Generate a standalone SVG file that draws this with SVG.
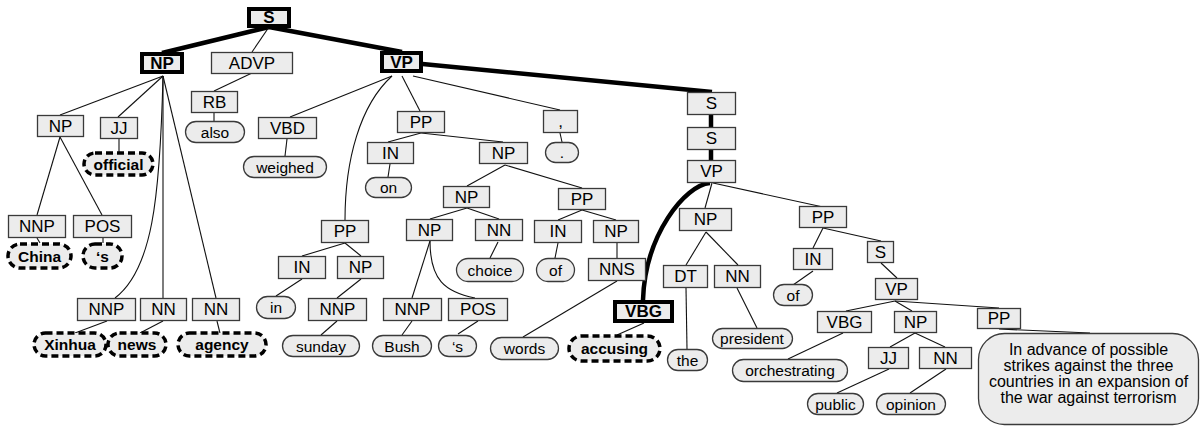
<svg xmlns="http://www.w3.org/2000/svg" width="1200" height="426" viewBox="0 0 1200 426">
<style>
  .box{fill:#ececec;stroke:#3a3a3a;stroke-width:1.3}
  .bbox{fill:#ececec;stroke:#000;stroke-width:4}
  .pill{fill:#ececec;stroke:#3a3a3a;stroke-width:1.3}
  .dpill{fill:#ececec;stroke:#000;stroke-width:3.5;stroke-dasharray:7 4}
  text{font-family:"Liberation Sans",Arial,sans-serif;fill:#000;text-anchor:middle;dominant-baseline:central}
  .lbl{font-size:17px}
  .blbl{font-size:17px;font-weight:bold}
  .leaf{font-size:15.5px}
  .bleaf{font-size:15.5px;font-weight:bold}
  .big{font-size:16px}
  .edge{fill:none;stroke:#111;stroke-width:1.1}
  .tedge{fill:none;stroke:#000;stroke-width:4.5}
</style>
<rect width="1200" height="426" fill="#fff"/>
<g id="connectors">
  <path class="tedge" d="M269,27 L162,53"/>
  <path class="edge" d="M269,27 L252,52"/>
  <path class="tedge" d="M269,27 L402,52"/>
  <path class="tedge" d="M402,62 L712,92"/>
  <path class="edge" d="M163,76 L60,115"/>
  <path class="edge" d="M163,76 L118,117"/>
  <path class="edge" d="M163,76 C160,200 152,270 115,298"/>
  <path class="edge" d="M163,76 L163,298"/>
  <path class="edge" d="M163,76 L216,298"/>
  <path class="edge" d="M60,137 L37,215"/>
  <path class="edge" d="M60,137 L102,215"/>
  <path class="edge" d="M119,139 L119,152"/>
  <path class="edge" d="M37,238 L40,243"/>
  <path class="edge" d="M103,238 L103,243"/>
  <path class="edge" d="M107,321 L75,333"/>
  <path class="edge" d="M163,321 L140,333"/>
  <path class="edge" d="M217,321 L220,333"/>
  <path class="edge" d="M252,73 L214,91"/>
  <path class="edge" d="M214,113 L214,121"/>
  <path class="edge" d="M392,76 L290,117"/>
  <path class="edge" d="M287,139 L285,156"/>
  <path class="edge" d="M392,76 C360,105 345,160 345,220"/>
  <path class="edge" d="M402,76 L420,111"/>
  <path class="edge" d="M413,76 L560,110"/>
  <path class="edge" d="M421,133 L388,142"/>
  <path class="edge" d="M421,133 L503,142"/>
  <path class="edge" d="M390,164 L388,177"/>
  <path class="edge" d="M560,133 L562,142"/>
  <path class="edge" d="M505,165 L467,186"/>
  <path class="edge" d="M505,165 L582,188"/>
  <path class="edge" d="M467,208 L430,219"/>
  <path class="edge" d="M467,208 L499,219"/>
  <path class="edge" d="M498,242 L490,258"/>
  <path class="edge" d="M582,210 L558,220"/>
  <path class="edge" d="M582,210 L616,220"/>
  <path class="edge" d="M558,243 L555,258"/>
  <path class="edge" d="M617,243 L617,258"/>
  <path class="edge" d="M430,241 L412,298"/>
  <path class="edge" d="M430,241 C430,280 445,292 475,298"/>
  <path class="edge" d="M412,321 L402,335"/>
  <path class="edge" d="M478,321 L458,334"/>
  <path class="edge" d="M617,281 L523,337"/>
  <path class="edge" d="M644,323 L617,335"/>
  <path class="edge" d="M345,243 L302,256"/>
  <path class="edge" d="M345,243 L361,256"/>
  <path class="edge" d="M302,279 L276,296"/>
  <path class="edge" d="M361,279 L337,298"/>
  <path class="edge" d="M337,321 L321,335"/>
  <path class="tedge" d="M710,183 C685,185 645,235 643,300"/>
  <path class="tedge" d="M711,115 L711,127"/>
  <path class="tedge" d="M711,150 L711,160"/>
  <path class="edge" d="M712,183 L705,208"/>
  <path class="edge" d="M713,183 L823,207"/>
  <path class="edge" d="M706,232 L686,265"/>
  <path class="edge" d="M706,232 L738,265"/>
  <path class="edge" d="M686,288 L687,349"/>
  <path class="edge" d="M737,288 L757,328"/>
  <path class="edge" d="M823,228 L813,248"/>
  <path class="edge" d="M823,228 L881,241"/>
  <path class="edge" d="M813,271 L793,285"/>
  <path class="edge" d="M881,263 L897,278"/>
  <path class="edge" d="M895,301 L846,311"/>
  <path class="edge" d="M895,301 L912,311"/>
  <path class="edge" d="M895,301 L999,308"/>
  <path class="edge" d="M843,333 L788,359"/>
  <path class="edge" d="M915,333 L890,347"/>
  <path class="edge" d="M915,333 L945,347"/>
  <path class="edge" d="M889,369 L837,393"/>
  <path class="edge" d="M946,369 L910,393"/>
  <path class="edge" d="M999,329 L1090,333"/>
</g>
<g id="n-s0"><rect class="bbox" x="249" y="9" width="40" height="17"/><text class="blbl" x="269" y="17.5">S</text></g>
<g id="n-np1"><rect class="bbox" x="142" y="54" width="40" height="18"/><text class="blbl" x="162" y="63">NP</text></g>
<g id="n-advp"><rect class="box" x="211.5" y="52.5" width="81" height="21"/><text class="lbl" x="252" y="63">ADVP</text></g>
<g id="n-vp1"><rect class="bbox" x="382" y="53" width="39" height="18"/><text class="blbl" x="401.5" y="62">VP</text></g>
<g id="n-np2"><rect class="box" x="37.5" y="115.5" width="46" height="21"/><text class="lbl" x="60.5" y="126">NP</text></g>
<g id="n-jj1"><rect class="box" x="100.5" y="117.5" width="37" height="21"/><text class="lbl" x="119" y="128">JJ</text></g>
<g id="n-rb"><rect class="box" x="191.5" y="91.5" width="46" height="21"/><text class="lbl" x="214.5" y="102">RB</text></g>
<g id="n-also"><rect class="pill" x="185.5" y="121.5" width="59" height="21" rx="10.5"/><text class="leaf" x="215" y="132">also</text></g>
<g id="n-vbd"><rect class="box" x="258.5" y="117.5" width="58" height="21"/><text class="lbl" x="287.5" y="128">VBD</text></g>
<g id="n-official"><rect class="dpill" x="84" y="153" width="69" height="22" rx="11"/><text class="bleaf" x="118.5" y="164">official</text></g>
<g id="n-weighed"><rect class="pill" x="243.5" y="156.5" width="83" height="21" rx="10.5"/><text class="leaf" x="285" y="167">weighed</text></g>
<g id="n-pp1"><rect class="box" x="397.5" y="111.5" width="47" height="21"/><text class="lbl" x="421" y="122">PP</text></g>
<g id="n-comma"><rect class="box" x="543.5" y="110.5" width="34" height="22"/><text class="lbl" x="560.5" y="121">,</text></g>
<g id="n-dot"><rect class="pill" x="545.5" y="142.5" width="33" height="20" rx="10"/><text class="leaf" x="562" y="152">.</text></g>
<g id="n-in1"><rect class="box" x="367.5" y="142.5" width="46" height="21"/><text class="lbl" x="390.5" y="153">IN</text></g>
<g id="n-on"><rect class="pill" x="365.5" y="177.5" width="46" height="20" rx="10"/><text class="leaf" x="388.5" y="187.5">on</text></g>
<g id="n-np3"><rect class="box" x="479.5" y="142.5" width="48" height="21"/><text class="lbl" x="503.5" y="153">NP</text></g>
<g id="n-s1"><rect class="box" x="687.5" y="92.5" width="48" height="22"/><text class="lbl" x="711.5" y="103.5">S</text></g>
<g id="n-s2"><rect class="box" x="687.5" y="127.5" width="48" height="22"/><text class="lbl" x="711.5" y="138.5">S</text></g>
<g id="n-vp2"><rect class="box" x="687.5" y="160.5" width="48" height="22"/><text class="lbl" x="711.5" y="171.5">VP</text></g>
<g id="n-nnp1"><rect class="box" x="8.5" y="215.5" width="57" height="22"/><text class="lbl" x="37" y="226.5">NNP</text></g>
<g id="n-pos1"><rect class="box" x="73.5" y="215.5" width="58" height="22"/><text class="lbl" x="102.5" y="226.5">POS</text></g>
<g id="n-china"><rect class="dpill" x="8" y="244" width="63" height="24" rx="12"/><text class="bleaf" x="39.5" y="256">China</text></g>
<g id="n-s-poss1"><rect class="dpill" x="83" y="244" width="39" height="24" rx="12"/><text class="bleaf" x="102.5" y="256">‘s</text></g>
<g id="n-pp2"><rect class="box" x="321.5" y="220.5" width="47" height="22"/><text class="lbl" x="345" y="231.5">PP</text></g>
<g id="n-in2"><rect class="box" x="278.5" y="256.5" width="47" height="22"/><text class="lbl" x="302" y="267.5">IN</text></g>
<g id="n-np4"><rect class="box" x="337.5" y="256.5" width="46" height="22"/><text class="lbl" x="360.5" y="267.5">NP</text></g>
<g id="n-np5"><rect class="box" x="443.5" y="186.5" width="46" height="21"/><text class="lbl" x="466.5" y="197">NP</text></g>
<g id="n-pp3"><rect class="box" x="558.5" y="188.5" width="47" height="21"/><text class="lbl" x="582" y="199">PP</text></g>
<g id="n-np6"><rect class="box" x="406.5" y="219.5" width="46" height="21"/><text class="lbl" x="429.5" y="230">NP</text></g>
<g id="n-nn1"><rect class="box" x="475.5" y="219.5" width="47" height="21"/><text class="lbl" x="499" y="230">NN</text></g>
<g id="n-choice"><rect class="pill" x="456.5" y="258.5" width="67" height="23" rx="11.5"/><text class="leaf" x="490" y="270">choice</text></g>
<g id="n-in3"><rect class="box" x="534.5" y="220.5" width="47" height="22"/><text class="lbl" x="558" y="231.5">IN</text></g>
<g id="n-np7"><rect class="box" x="593.5" y="220.5" width="45" height="22"/><text class="lbl" x="616" y="231.5">NP</text></g>
<g id="n-of1"><rect class="pill" x="536.5" y="258.5" width="38" height="23" rx="11.5"/><text class="leaf" x="555.5" y="270">of</text></g>
<g id="n-nns"><rect class="box" x="588.5" y="258.5" width="57" height="22"/><text class="lbl" x="617" y="269.5">NNS</text></g>
<g id="n-np8"><rect class="box" x="679.5" y="208.5" width="52" height="22"/><text class="lbl" x="705.5" y="219.5">NP</text></g>
<g id="n-pp4"><rect class="box" x="799.5" y="206.5" width="47" height="21"/><text class="lbl" x="823" y="217">PP</text></g>
<g id="n-dt"><rect class="box" x="663.5" y="265.5" width="44" height="22"/><text class="lbl" x="685.5" y="276.5">DT</text></g>
<g id="n-nn2"><rect class="box" x="714.5" y="265.5" width="46" height="22"/><text class="lbl" x="737.5" y="276.5">NN</text></g>
<g id="n-in4"><rect class="box" x="793.5" y="248.5" width="39" height="21"/><text class="lbl" x="813" y="259">IN</text></g>
<g id="n-s3"><rect class="box" x="867.5" y="241.5" width="26" height="21"/><text class="lbl" x="880.5" y="252">S</text></g>
<g id="n-of2"><rect class="pill" x="773.5" y="284.5" width="39" height="21" rx="10.5"/><text class="leaf" x="793" y="295">of</text></g>
<g id="n-vp3"><rect class="box" x="875.5" y="278.5" width="42" height="21"/><text class="lbl" x="896.5" y="289">VP</text></g>
<g id="n-nnp2"><rect class="box" x="77.5" y="298.5" width="58" height="22"/><text class="lbl" x="106.5" y="309.5">NNP</text></g>
<g id="n-nn-news"><rect class="box" x="140.5" y="298.5" width="46" height="22"/><text class="lbl" x="163.5" y="309.5">NN</text></g>
<g id="n-nn-agency"><rect class="box" x="192.5" y="298.5" width="47" height="22"/><text class="lbl" x="216" y="309.5">NN</text></g>
<g id="n-in"><rect class="pill" x="256.5" y="296.5" width="39" height="22" rx="11"/><text class="leaf" x="276" y="307">in</text></g>
<g id="n-nnp3"><rect class="box" x="308.5" y="298.5" width="58" height="22"/><text class="lbl" x="337.5" y="309.5">NNP</text></g>
<g id="n-nnp4"><rect class="box" x="383.5" y="298.5" width="58" height="22"/><text class="lbl" x="412.5" y="309.5">NNP</text></g>
<g id="n-pos2"><rect class="box" x="448.5" y="298.5" width="59" height="22"/><text class="lbl" x="478" y="309.5">POS</text></g>
<g id="n-vbg1"><rect class="bbox" x="615" y="302" width="57" height="19"/><text class="blbl" x="643.5" y="311.5">VBG</text></g>
<g id="n-vbg2"><rect class="box" x="817.5" y="311.5" width="54" height="21"/><text class="lbl" x="844.5" y="322">VBG</text></g>
<g id="n-np9"><rect class="box" x="894.5" y="311.5" width="42" height="21"/><text class="lbl" x="915.5" y="322">NP</text></g>
<g id="n-pp5"><rect class="box" x="977.5" y="308.5" width="43" height="20"/><text class="lbl" x="999" y="318.5">PP</text></g>
<g id="n-president"><rect class="pill" x="712.5" y="328.5" width="80" height="20" rx="10"/><text class="leaf" x="752" y="338.5">president</text></g>
<g id="n-the"><rect class="pill" x="667.5" y="349.5" width="40" height="21" rx="10.5"/><text class="leaf" x="687.5" y="360">the</text></g>
<g id="n-orchestrating"><rect class="pill" x="732.5" y="359.5" width="115" height="22" rx="11"/><text class="leaf" x="790" y="370.5">orchestrating</text></g>
<g id="n-xinhua"><rect class="dpill" x="34" y="333" width="72" height="23" rx="11.5"/><text class="bleaf" x="70" y="344.5">Xinhua</text></g>
<g id="n-news"><rect class="dpill" x="108" y="333" width="58" height="23" rx="11.5"/><text class="bleaf" x="137" y="344.5">news</text></g>
<g id="n-agency"><rect class="dpill" x="178" y="333" width="88" height="23" rx="11.5"/><text class="bleaf" x="222" y="344.5">agency</text></g>
<g id="n-sunday"><rect class="pill" x="282.5" y="335.5" width="77" height="21" rx="10.5"/><text class="leaf" x="321" y="346">sunday</text></g>
<g id="n-bush"><rect class="pill" x="372.5" y="335.5" width="59" height="21" rx="10.5"/><text class="leaf" x="402" y="346">Bush</text></g>
<g id="n-s-poss2"><rect class="pill" x="438.5" y="335.5" width="38" height="21" rx="10.5"/><text class="leaf" x="457.5" y="346">‘s</text></g>
<g id="n-words"><rect class="pill" x="490.5" y="337.5" width="68" height="22" rx="11"/><text class="leaf" x="524.5" y="348.5">words</text></g>
<g id="n-accusing"><rect class="dpill" x="569" y="336" width="91" height="25" rx="12.5"/><text class="bleaf" x="614.5" y="348">accusing</text></g>
<g id="n-jj2"><rect class="box" x="868.5" y="347.5" width="40" height="21"/><text class="lbl" x="888.5" y="358">JJ</text></g>
<g id="n-nn3"><rect class="box" x="919.5" y="347.5" width="52" height="21"/><text class="lbl" x="945.5" y="358">NN</text></g>
<g id="n-public"><rect class="pill" x="807.5" y="393.5" width="56" height="21" rx="10.5"/><text class="leaf" x="835.5" y="404">public</text></g>
<g id="n-opinion"><rect class="pill" x="876.5" y="393.5" width="69" height="21" rx="10.5"/><text class="leaf" x="911" y="404">opinion</text></g>
<g id="n-phrase"><rect class="pill" x="978.5" y="333.5" width="220" height="91" rx="26"/>
  <text class="big" x="1088.5" y="349">In advance of possible</text>
  <text class="big" x="1088.5" y="365">strikes against the three</text>
  <text class="big" x="1088.5" y="381">countries in an expansion of</text>
  <text class="big" x="1088.5" y="397">the war against terrorism</text>
</g>
</svg>
